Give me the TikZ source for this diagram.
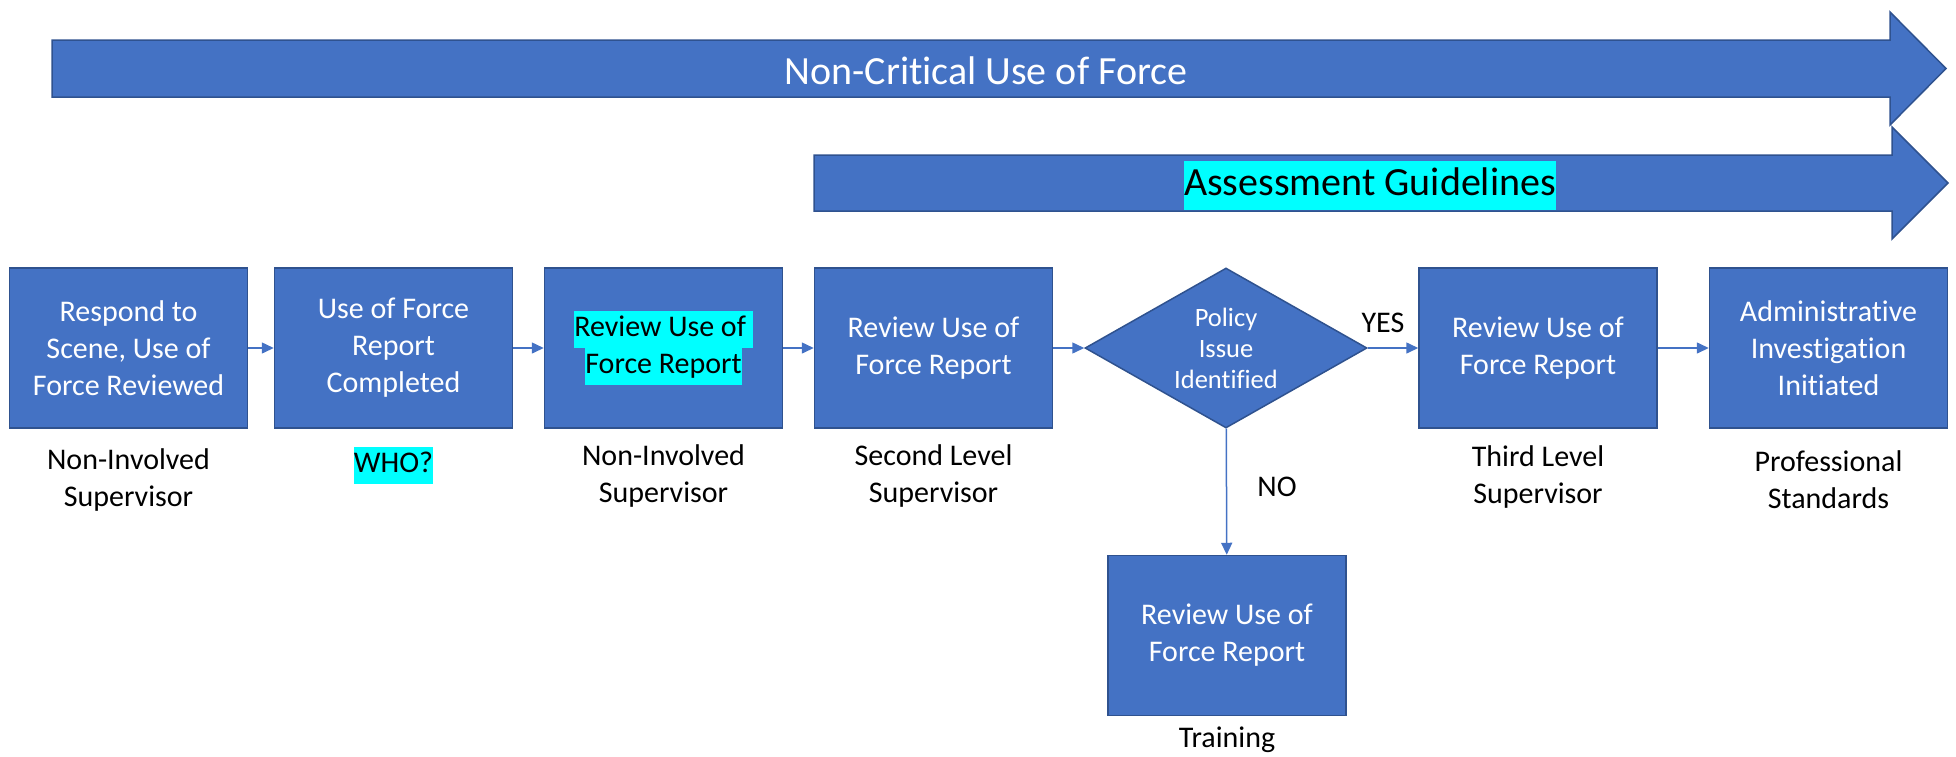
\documentclass[tikz,border=0pt]{standalone}
\usepackage{fontspec}
\setmainfont{Carlito}[Ligatures={NoCommon,NoContextual,NoRare},Contextuals={NoAlternate}]
\usetikzlibrary{arrows.meta,shapes.geometric}
\definecolor{officeblue}{HTML}{4472C4}
\definecolor{officeline}{HTML}{2F528F}
\definecolor{hilite}{HTML}{00FFFF}
\newcommand{\hl}[1]{{\setlength{\fboxsep}{0pt}\colorbox{hilite}{\strut#1}}}

\begin{document}
\begin{tikzpicture}[x=1pt,y=-1pt,
	box/.style={draw=officeline,fill=officeblue,line width=1.5pt,minimum width=238pt,minimum height=160pt,inner sep=0pt,text=white,align=center,font=\fontsize{30}{37}\selectfont},
	decision/.style={diamond,draw=officeline,fill=officeblue,line width=1.5pt,aspect=1.76,minimum width=282pt,minimum height=160pt,inner sep=0pt,text=white,align=center,font=\fontsize{26.5}{31}\selectfont},
	bigarrow/.style={draw=officeline,fill=officeblue,line width=1.5pt,line join=miter},
	banner/.style={inner sep=0pt,font=\fontsize{40}{49}\selectfont},
	who/.style={align=center,inner sep=0pt,font=\fontsize{30}{37}\selectfont},
	flow/.style={draw=officeblue,line width=1.5pt,-{Triangle[length=12pt,width=11pt]}}]
	\useasboundingbox (0,0) rectangle (1956,756);
	% banners
	\draw[bigarrow] (52,40) -- (1890,40) -- (1890,12) -- (1946,68.5) -- (1890,125) -- (1890,97) -- (52,97) -- cycle;
	\draw[bigarrow] (814,155) -- (1892,155) -- (1892,127) -- (1948,183) -- (1892,239) -- (1892,211) -- (814,211) -- cycle;
	\node[banner,text=white] (noncrit) at (986,70.5) {Non-Critical Use of Force};
	\node[banner] (guide) at (1370,185.5) {\hl{Assessment Guidelines}};
	% steps
	\node[box] (respond) at (128.5,348) {Respond to\\Scene, Use of\\Force Reviewed};
	\node[box] (report) at (393.5,348) {Use of Force\\Report\\Completed};
	\node[box,text=black] (review1) at (663.5,348) {\hl{Review Use of }\\\hl{Force Report}};
	\node[box] (review2) at (933.5,348) {Review Use of\\Force Report};
	\node[decision] (policy) at (1226,348) {Policy\\Issue\\Identified};
	\node[box] (review3) at (1538,348) {Review Use of\\Force Report};
	\node[box] (admin) at (1828.5,348) {Administrative\\Investigation\\Initiated};
	\node[box] (training) at (1227,635.5) {Review Use of\\Force Report};
	% who does it
	\node[who] (whoA) at (128.5,480) {Non-Involved\\Supervisor};
	\node[who] (whoB) at (393.5,465) {\hl{WHO?}};
	\node[who] (whoC) at (663.5,476) {Non-Involved\\Supervisor};
	\node[who] (whoD) at (933.5,476) {Second Level\\Supervisor};
	\node[who] (whoE) at (1538,477) {Third Level\\Supervisor};
	\node[who] (whoF) at (1828.5,480) {Professional\\Standards};
	\node[who] (whoG) at (1227,740) {Training};
	% connectors
	\draw[flow] (respond) -- (report);
	\draw[flow] (report) -- (review1);
	\draw[flow] (review1) -- (review2);
	\draw[flow] (review2) -- (policy);
	\draw[flow] (policy) -- (review3);
	\draw[flow] (review3) -- (admin);
	\draw[flow] (policy) -- (training);
	\node[who] (yes) at (1383,323) {YES};
	\node[who] (no) at (1277,487) {NO};
\end{tikzpicture}
\end{document}
